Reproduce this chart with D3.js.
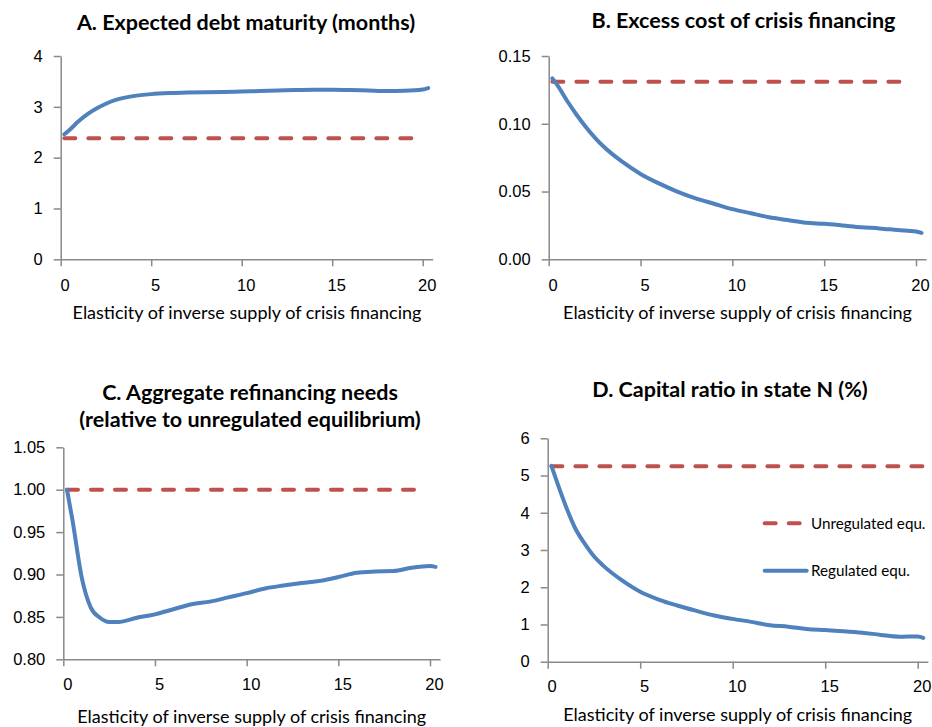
<!DOCTYPE html>
<html>
<head>
<meta charset="utf-8">
<script src="https://cdn.jsdelivr.net/npm/d3@7"></script>
<style>
body { margin: 0; background: #fff; }
svg { font-family: Lato, "Open Sans", sans-serif; }
.tick text { font-size: 16.5px; fill: #000; }
.axis path, .axis line { stroke: #898989; stroke-width: 1.5; }
</style>
</head>
<body>
<svg id="fig" width="932" height="727"></svg>
<script>
// elasticity grid shared by all regulated-equilibrium series
const elasticity = [0.2, 0.5, 1, 1.5, 2, 2.5, 3, 4, 5, 6, 7, 8, 9, 10, 11, 12, 13, 14, 15, 16, 17, 18, 19, 20, 20.3];

const maturityReg = [2.46, 2.55, 2.72, 2.86, 2.97, 3.06, 3.13, 3.21, 3.25, 3.27, 3.28, 3.285, 3.29, 3.30, 3.31, 3.32, 3.33, 3.335, 3.335, 3.33, 3.32, 3.31, 3.315, 3.34, 3.37];
const costReg = [0.1335, 0.128, 0.117, 0.107, 0.098, 0.090, 0.083, 0.072, 0.063, 0.056, 0.050, 0.045, 0.041, 0.037, 0.034, 0.031, 0.029, 0.027, 0.0262, 0.025, 0.0237, 0.0228, 0.0216, 0.0205, 0.0195];
const refiReg = [1.000, 0.964, 0.897, 0.861, 0.849, 0.844, 0.844, 0.849, 0.853, 0.859, 0.865, 0.868, 0.873, 0.878, 0.8835, 0.887, 0.890, 0.8925, 0.897, 0.902, 0.9035, 0.904, 0.908, 0.910, 0.909];
const capitalReg = [5.26, 4.83, 4.15, 3.57, 3.17, 2.83, 2.58, 2.19, 1.88, 1.67, 1.51, 1.37, 1.24, 1.15, 1.07, 0.98, 0.94, 0.88, 0.85, 0.82, 0.78, 0.72, 0.67, 0.68, 0.64];

// unregulated equilibrium: constant level, start/end elasticity
const unregLevel = [2.38, 0.131, 1.00, 5.25];
const unregSpan = [[0.2, 19.9], [0.2, 19.6], [0.2, 19.5], [0.2, 20.3]];

const xTicks = [0, 5, 10, 15, 20];
const yTicksA = [0, 1, 2, 3, 4];
const yTicksB = [0, 0.05, 0.10, 0.15];
const yTicksC = [0.80, 0.85, 0.90, 0.95, 1.00, 1.05];
const yTicksD = [0, 1, 2, 3, 4, 5, 6];

const titles = [
  ["A. Expected debt maturity (months)"],
  ["B. Excess cost of crisis financing"],
  ["C. Aggregate refinancing needs", "(relative to unregulated equilibrium)"],
  ["D. Capital ratio in state N (%)"]
];
const xLabel = "Elasticity of inverse supply of crisis financing";
const legendNames = ["Unregulated equ.", "Regulated equ."];

const blue = "#4f81bd", red = "#c0504d";
const fig = d3.select("#fig");

const panels = [
  {reg: maturityReg, yTicks: yTicksA, fmt: d3.format("d"), x0: 60.7, x20: 422.7, yTop: 56, yBot: 259.3,
   title: titles[0], titleX: 246, titleY: 29.5, labelX: 247, labelY: 319, tickY: 285},
  {reg: costReg, yTicks: yTicksB, fmt: d3.format(".2f"), x0: 548.7, x20: 916, yTop: 56, yBot: 259.3,
   title: titles[1], titleX: 743.5, titleY: 28, labelX: 737.5, labelY: 319, tickY: 285},
  {reg: refiReg, yTicks: yTicksC, fmt: d3.format(".2f"), x0: 63.3, x20: 430, yTop: 447.3, yBot: 659.3,
   title: titles[2], titleX: 250, titleY: 399.5, labelX: 251.7, labelY: 722.5, tickY: 684},
  {reg: capitalReg, yTicks: yTicksD, fmt: d3.format("d"), x0: 547.7, x20: 917.7, yTop: 438.3, yBot: 661.7,
   title: titles[3], titleX: 730, titleY: 397, labelX: 737.7, labelY: 721, tickY: 686.7}
];

panels.forEach((p, i) => {
  const g = fig.append("g");
  const unit = (p.x20 - p.x0) / 20;
  const x = d3.scaleLinear().domain([0, 20.55]).range([p.x0, p.x0 + 20.55 * unit]);
  const y = d3.scaleLinear().domain(d3.extent(p.yTicks)).range([p.yBot, p.yTop]);

  // axes
  const xAxis = g.append("g").attr("class", "axis")
    .attr("transform", `translate(0,${p.yBot})`)
    .call(d3.axisBottom(x).tickValues(xTicks).tickSize(7).tickSizeOuter(0).tickPadding(9).tickFormat(d3.format("d")));
  xAxis.selectAll(".tick text").attr("dx", 4).attr("y", p.tickY - p.yBot).attr("dy", "0.35em");
  g.append("g").attr("class", "axis")
    .attr("transform", `translate(${p.x0},0)`)
    .call(d3.axisLeft(y).tickValues(p.yTicks).tickSize(7).tickSizeOuter(0).tickPadding(11).tickFormat(p.fmt));

  // unregulated (dashed)
  g.append("path")
    .datum(unregSpan[i])
    .attr("fill", "none")
    .attr("stroke", red)
    .attr("stroke-width", 4)
    .attr("stroke-linecap", "round")
    .attr("stroke-dasharray", "11,13")
    .attr("d", d3.line().x(d => x(d)).y(() => y(unregLevel[i])));

  // regulated (solid)
  g.append("path")
    .datum(elasticity.map((e, k) => [e, p.reg[k]]))
    .attr("fill", "none")
    .attr("stroke", blue)
    .attr("stroke-width", 4)
    .attr("stroke-linecap", "round")
    .attr("d", d3.line().curve(d3.curveMonotoneX).x(d => x(d[0])).y(d => y(d[1])));

  // title
  p.title.forEach((t, k) => {
    g.append("text")
      .attr("x", p.titleX)
      .attr("y", p.titleY + k * 27.5)
      .attr("text-anchor", "middle")
      .style("font-size", "21.5px")
      .style("font-weight", "bold")
      .text(t);
  });

  // x axis label
  g.append("text")
    .attr("x", p.labelX)
    .attr("y", p.labelY)
    .attr("text-anchor", "middle")
    .style("font-size", "18px")
    .text(xLabel);
});

// legend in panel D
const legend = fig.append("g").attr("transform", "translate(762.7,523.3)");
const items = legend.selectAll("g")
  .data(legendNames)
  .join("g")
  .attr("transform", (d, i) => `translate(0,${i * 47.4})`);
items.append("line")
  .attr("x1", 2).attr("x2", (d, i) => i === 0 ? 37 : 44)
  .attr("stroke", (d, i) => i === 0 ? red : blue)
  .attr("stroke-width", 4)
  .attr("stroke-linecap", "round")
  .attr("stroke-dasharray", (d, i) => i === 0 ? "11,13" : null);
items.append("text")
  .attr("x", 48.3)
  .attr("dy", "0.35em")
  .style("font-size", "15.2px")
  .text(d => d);
</script>
</body>
</html>
